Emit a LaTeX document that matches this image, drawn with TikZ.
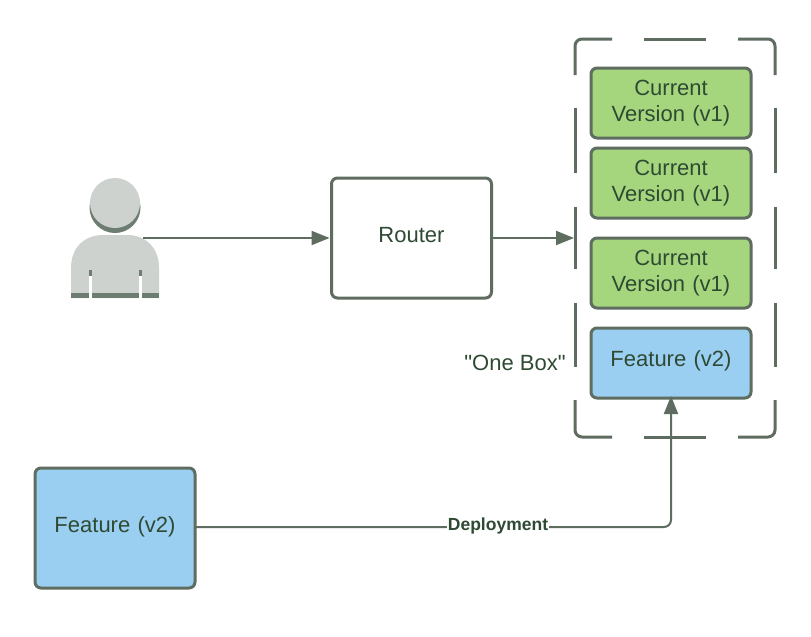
\documentclass[tikz,border=0pt]{standalone}
\usepackage{fontspec}
\setmainfont{Liberation Sans}
\newfontfamily\quotefont{Liberation Sans}
\usetikzlibrary{arrows.meta}
\definecolor{edgecol}{HTML}{5E6D60}
\definecolor{txtcol}{HTML}{2F4A33}
\definecolor{greenfill}{HTML}{A5D67E}
\definecolor{bluefill}{HTML}{9ACFF1}
\definecolor{skin}{HTML}{CDD2CE}
\definecolor{skindark}{HTML}{6E7D72}
\tikzset{
  x=1pt,y=-1pt,
  procbox/.style={draw=edgecol,line width=3pt,rounded corners=6pt,inner sep=0pt,outer sep=0pt,align=center,text=txtcol,font=\fontsize{22}{26.5}\selectfont,text width=154pt,minimum width=160pt,anchor=center},
  greenbox/.style={procbox,fill=greenfill,minimum height=70pt},
  bluebox/.style={procbox,fill=bluefill,minimum height=70pt},
  flow/.style={draw=edgecol,line width=2pt,-{Triangle[length=18pt,width=14pt]}},
  dashseg/.style={draw=edgecol,line width=3pt},
  plaintext/.style={text=txtcol,inner sep=0pt,font=\fontsize{22}{26}\selectfont},
}
\begin{document}
\begin{tikzpicture}
\useasboundingbox (0,0) rectangle (811,637);
\fill[white] (0,0) rectangle (811,637);
% user
\fill[skindark] (115,207.5) circle (25.5);
\fill[skin] (115,203) circle (25);
\fill[skin] (71,298) -- (71,268) .. controls (71,247) and (85,235) .. (103,235) -- (127,235) .. controls (145,235) and (159,247) .. (159,268) -- (159,298) -- cycle;
\fill[skindark] (71,293) rectangle (159,298);
\fill[white] (89,270) rectangle (91.5,299);
\fill[white] (139,270) rectangle (141.5,299);
\fill[skindark] (89,270) rectangle (91.5,276);
\fill[skindark] (139,270) rectangle (141.5,276);
\coordinate (user) at (143,238);
% nodes
\node[procbox,fill=white,minimum height=120pt] (router) at (411.5,238) {\raisebox{6pt}{Router}};
\node[greenbox] (g1) at (671,103) {Current\\Version (v1)};
\node[greenbox] (g2) at (671,183) {Current\\Version (v1)};
\node[greenbox] (g3) at (671,273) {Current\\Version (v1)};
\node[bluebox] (b1) at (671,363) {\raisebox{8pt}{Feature (v2)}};
\node[procbox,fill=bluefill,minimum height=120pt] (b2) at (115,528) {\raisebox{6pt}{Feature (v2)}};
\node[plaintext] (onebox) at (515,363) {\quotefont "One Box"};
\coordinate (boxin) at (574,238);
\coordinate (bend) at (671,527);
% dashed frame
\draw[dashseg,rounded corners=7pt] (575,75) -- (575,39) -- (612,39);
\draw[dashseg] (644,39) -- (706,39);
\draw[dashseg,rounded corners=7pt] (738,39) -- (775,39) -- (775,75);
\draw[dashseg] (575,108) -- (575,173);
\draw[dashseg] (575,207) -- (575,269);
\draw[dashseg] (575,303) -- (575,367);
\draw[dashseg] (775,108) -- (775,173);
\draw[dashseg] (775,207) -- (775,269);
\draw[dashseg] (775,303) -- (775,367);
\draw[dashseg,rounded corners=7pt] (575,400) -- (575,437) -- (612,437);
\draw[dashseg] (644,437) -- (706,437);
\draw[dashseg,rounded corners=7pt] (738,437) -- (775,437) -- (775,400);
% connectors
\draw[flow] (user) -- ([xshift=-2pt]router.west);
\draw[flow] (router.east) -- (boxin);
\draw[flow,rounded corners=7pt] (b2.east |- bend) -- (bend) -- ([yshift=2pt]b1.south);
\node[fill=white,inner sep=1pt,text=txtcol,font=\fontsize{17.5}{20}\selectfont\bfseries] (dep) at (498,526) {Deployment};
\end{tikzpicture}
\end{document}
